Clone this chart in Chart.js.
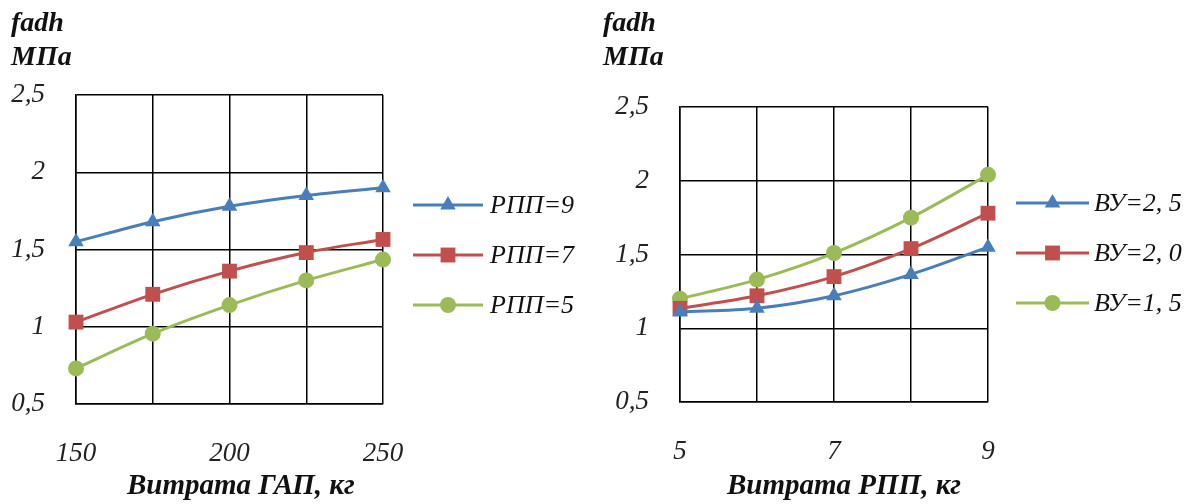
<!DOCTYPE html>
<html>
<head>
<meta charset="utf-8">
<script src="https://cdn.jsdelivr.net/npm/chart.js@4/dist/chart.umd.min.js"></script>
<style>
  body { margin:0; background:#fff; width:1189px; height:504px; overflow:hidden; position:relative; }
  .box { position:absolute; top:0; height:504px; }
  .lbl { position:absolute; font-family:"Liberation Serif", serif; font-style:italic; font-weight:bold; color:#111; white-space:nowrap; }
  .unit { font-size:28px; line-height:34px; }
  .xt { font-size:29px; top:468px; }
</style>
</head>
<body>
<div class="box" style="left:0;width:590px"><canvas id="c1"></canvas></div>
<div class="box" style="left:590px;width:599px"><canvas id="c2"></canvas></div>
<div class="lbl unit" style="left:11px;top:5px">fadh<br>МПа</div>
<div class="lbl unit" style="left:603px;top:5px">fadh<br>МПа</div>
<div class="lbl xt" id="t1" style="left:127px">Витрата ГАП, кг</div>
<div class="lbl xt" id="t2" style="left:727px">Витрата РПП, кг</div>
<script>
// left chart: витрата ГАП
var gapKg = [150, 175, 200, 225, 250];
var rpp9 = [1.55, 1.68, 1.78, 1.85, 1.90];
var rpp7 = [1.03, 1.21, 1.36, 1.48, 1.565];
var rpp5 = [0.73, 0.955, 1.14, 1.30, 1.435];
var gapTickLabels = [150, 200, 250];

// right chart: витрата РПП
var rppKg = [5, 6, 7, 8, 9];
var vu25 = [1.11, 1.135, 1.22, 1.365, 1.55];
var vu20 = [1.135, 1.22, 1.35, 1.54, 1.78];
var vu15 = [1.20, 1.33, 1.51, 1.75, 2.04];
var rppTickLabels = [5, 7, 9];

var yTickLabels = {0.5: '0,5', 1: '1', 1.5: '1,5', 2: '2', 2.5: '2,5'};

var blue = '#4A7EBB', red = '#C0504D', green = '#9BBB59';
var tickFont = {family: 'Liberation Serif', style: 'italic', size: 27};

function pts(xs, ys) {
  return xs.map(function(x, i){ return {x: x, y: ys[i]}; });
}

function ds(label, xs, ys, color, style, r) {
  return {
    label: label, data: pts(xs, ys),
    borderColor: color, backgroundColor: color,
    borderWidth: 3, pointStyle: style, pointRadius: r,
    pointBorderWidth: 0, cubicInterpolationMode: 'monotone', clip: false
  };
}

// legend drawn as line + marker like the original
var lineLegend = {
  id: 'lineLegend',
  afterDraw: function(chart) {
    var o = chart.options.plugins.lineLegend;
    var ctx = chart.ctx;
    chart.data.datasets.forEach(function(d, i){
      var y = o.y + i * o.dy;
      ctx.save();
      ctx.strokeStyle = d.borderColor;
      ctx.lineWidth = 3;
      ctx.beginPath(); ctx.moveTo(o.x0, y); ctx.lineTo(o.x1, y); ctx.stroke();
      ctx.fillStyle = d.backgroundColor;
      Chart.helpers.drawPoint(ctx, {pointStyle: d.pointStyle, radius: d.pointRadius, rotation: 0, borderWidth: 0}, (o.x0 + o.x1) / 2, y);
      ctx.fillStyle = '#111';
      ctx.font = 'italic 26px "Liberation Serif"';
      ctx.textBaseline = 'middle';
      ctx.fillText(d.label, o.tx, y + 1);
      ctx.restore();
    });
  }
};

function makeChart(id, datasets, xmin, xmax, step, xLabels, pad, yw, xh, leg) {
  return new Chart(document.getElementById(id), {
    type: 'line',
    data: {datasets: datasets},
    options: {
      responsive: true, maintainAspectRatio: false, animation: false,
      layout: {padding: pad},
      plugins: {legend: {display: false}, tooltip: {enabled: false}, lineLegend: leg},
      scales: {
        x: {
          type: 'linear', min: xmin, max: xmax,
          ticks: {stepSize: step, font: tickFont, color: '#222', padding: 34, maxRotation: 0,
            callback: function(v){ return xLabels.indexOf(v) > -1 ? String(v) : ''; }},
          grid: {color: '#000', lineWidth: 1.5, drawTicks: false},
          border: {color: '#000', width: 1.5},
          afterFit: function(s){ s.height = xh; }
        },
        y: {
          min: 0.5, max: 2.5,
          ticks: {stepSize: 0.5, font: tickFont, color: '#222', padding: 31,
            callback: function(v){ return yTickLabels[v]; }},
          grid: {color: '#000', lineWidth: 1.5, drawTicks: false},
          border: {color: '#000', width: 1.5},
          afterFit: function(s){ s.width = yw; }
        }
      }
    },
    plugins: [lineLegend]
  });
}

makeChart('c1', [
  ds('РПП=9', gapKg, rpp9, blue, 'triangle', 9),
  ds('РПП=7', gapKg, rpp7, red, 'rect', 10.5),
  ds('РПП=5', gapKg, rpp5, green, 'circle', 8)
], 150, 250, 25, gapTickLabels, {top: 95, right: 207, left: 0, bottom: 0}, 76, 100,
  {x0: 413, x1: 483, tx: 490, y: 205, dy: 50});

makeChart('c2', [
  ds('ВУ=2, 5', rppKg, vu25, blue, 'triangle', 9),
  ds('ВУ=2, 0', rppKg, vu20, red, 'rect', 10.5),
  ds('ВУ=1, 5', rppKg, vu15, green, 'circle', 8)
], 5, 9, 1, rppTickLabels, {top: 107, right: 201, left: 0, bottom: 0}, 90, 102,
  {x0: 426, x1: 499, tx: 504, y: 203, dy: 50});
</script>
</body>
</html>
